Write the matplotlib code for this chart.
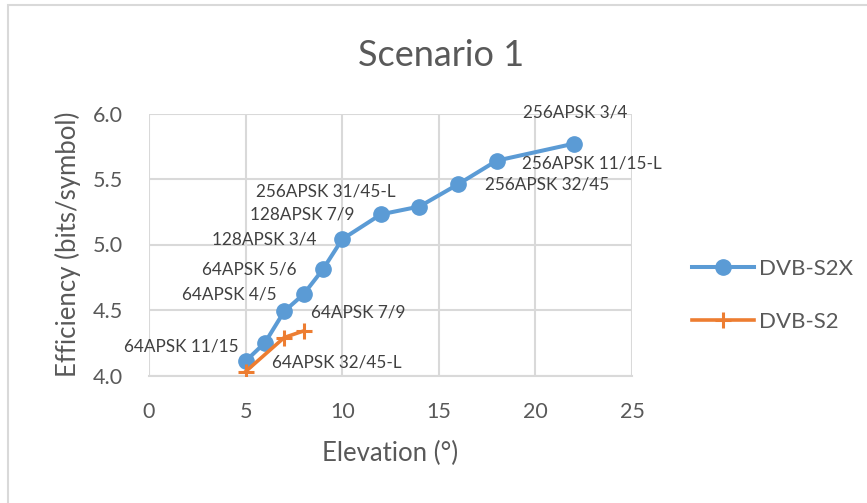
import matplotlib
matplotlib.use("Agg")
import matplotlib.pyplot as plt
from matplotlib.patches import Rectangle

plt.rcParams['font.family'] = ['Lato', 'DejaVu Sans']

# ---- data ----
s2x_elev = [5, 6, 7, 8, 9, 10, 12, 14, 16, 18, 22]
s2x_eff = [4.11, 4.25, 4.49, 4.62, 4.81, 5.04, 5.23, 5.29, 5.46, 5.64, 5.77]
s2x_labels = ["64APSK 11/15", "64APSK 32/45-L", "64APSK 7/9", "64APSK 4/5",
              "64APSK 5/6", "128APSK 3/4", "128APSK 7/9", "256APSK 31/45-L",
              "256APSK 32/45", "256APSK 11/15-L", "256APSK 3/4"]
s2_elev = [5, 7, 8]
s2_eff = [4.03, 4.29, 4.34]
x_ticks = [0, 5, 10, 15, 20, 25]
y_ticks = [4.0, 4.5, 5.0, 5.5, 6.0]

# label placement (offset pixels, alignment)
label_pos = [(-7, 15, 'right'), (7, -20, 'left'), (27, -1, 'left'), (-27, 0, 'right'),
             (-26, 0, 'right'), (-26, 0, 'right'), (-26, 0, 'right'), (-24, 15, 'right'),
             (27, 0, 'left'), (25, -3, 'left'), (1, 31, 'center')]

BLUE = '#5B9BD5'
ORANGE = '#ED7D31'
TXT = '#595959'
GRID = '#D9D9D9'

fig = plt.figure(figsize=(8.67, 5.03), dpi=100)
ax = fig.add_axes([149/867, 1-375.5/503, 483/867, 262/503])

ax.plot(s2x_elev, s2x_eff, color=BLUE, lw=2.9, marker='o', ms=11, zorder=3,
        label='DVB-S2X')
ax.plot(s2_elev, s2_eff, color=ORANGE, lw=2.6, marker='+', ms=11, mew=2.2, zorder=4,
        label='DVB-S2')

for x, y, t, (dx, dy, ha) in zip(s2x_elev, s2x_eff, s2x_labels, label_pos):
    ax.annotate(t, (x, y), xytext=(dx, dy), textcoords='offset pixels',
                ha=ha, va='center', fontsize=12.3, color='#404040', zorder=5)

ax.set_xlim(0, 25)
ax.set_ylim(4.0, 6.0)
ax.set_xticks(x_ticks)
ax.set_yticks(y_ticks)
ax.set_yticklabels([f"{v:.1f}" for v in y_ticks])
ax.grid(True, color=GRID, lw=1.5)
ax.set_axisbelow(True)
for s in ['top', 'right', 'left']:
    ax.spines[s].set_visible(False)
ax.spines['bottom'].set_color(GRID)
ax.spines['bottom'].set_linewidth(1.5)
ax.tick_params(length=0, labelsize=15.5, colors=TXT)
ax.tick_params(axis='x', pad=19)
ax.tick_params(axis='y', pad=19)

ax.set_xlabel('Elevation (°)', fontsize=18.5, color=TXT, labelpad=14)
ax.set_ylabel('Efficiency (bits/symbol)', fontsize=18.5, color=TXT, labelpad=8)
fig.text(441/867, 1-55/503, 'Scenario 1', fontsize=26, color=TXT,
         ha='center', va='center')

fig.legend(handles=ax.get_lines(), loc='upper left', bbox_to_anchor=(683/867, 1-250/503),
           frameon=False, fontsize=16, labelcolor=TXT, handlelength=2.8,
           labelspacing=1.5, handletextpad=0.2, borderaxespad=0)

fig.patches.append(Rectangle((8/867, -0.1), 1.2, 1.1-5/503, transform=fig.transFigure,
                             fill=False, edgecolor=GRID, lw=1.5))

fig.savefig('out.png', dpi=100)
